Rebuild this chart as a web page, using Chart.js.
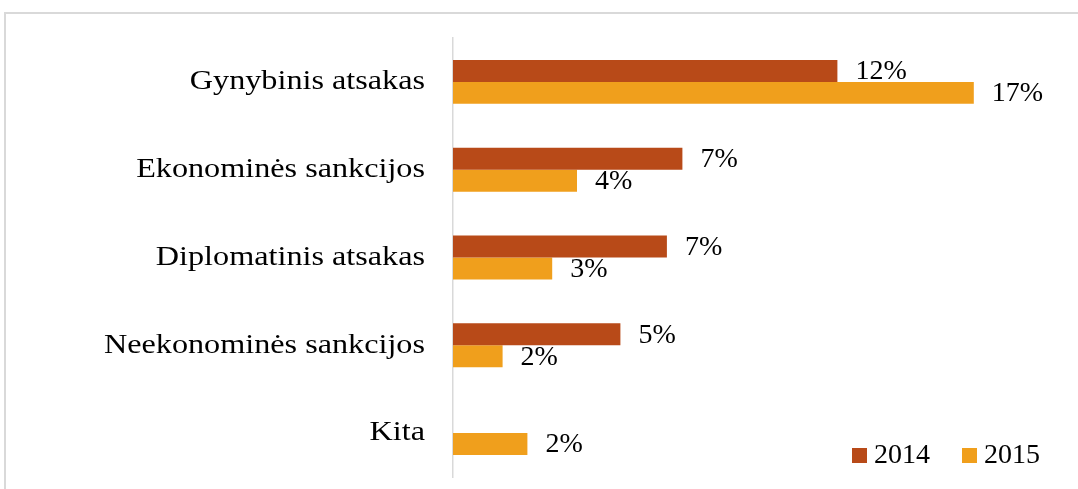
<!DOCTYPE html>
<html>
<head>
<meta charset="utf-8">
<script src="https://cdn.jsdelivr.net/npm/chart.js@4/dist/chart.umd.min.js"></script>
<style>
  html, body { margin: 0; padding: 0; background: #fff; overflow: hidden; }
  #frame { position: absolute; left: 4px; top: 12px; width: 1100px; height: 500px; border: 2px solid #d9d9d9; }
  #chart { position: absolute; left: 0; top: 0; }
</style>
</head>
<body>
<div id="frame"></div>
<canvas id="chart" width="1078" height="489"></canvas>
<script>
// Atsako tipai
var categories = ['Gynybinis atsakas', 'Ekonominės sankcijos', 'Diplomatinis atsakas', 'Neekonominės sankcijos', 'Kita'];
var seriesNames = ['2014', '2015'];
var values2014 = [12.4, 7.4, 6.9, 5.4, null];
var values2015 = [16.8, 4.0, 3.2, 1.6, 2.4];
var colours = ['#B84A18', '#F09F1C'];

var serif = '"Liberation Serif", "Times New Roman", serif';

// category names, a bit wider than the plain font (as in the original picture)
var categoryLabels = {
  id: 'categoryLabels',
  afterDraw: function (chart) {
    var ctx = chart.ctx, y = chart.scales.y, i;
    ctx.save();
    ctx.font = '28px ' + serif;
    ctx.fillStyle = '#000';
    ctx.textAlign = 'right';
    ctx.textBaseline = 'middle';
    for (i = 0; i < categories.length; i += 1) {
      ctx.save();
      ctx.translate(425, y.getPixelForTick(i));
      ctx.scale(1.15, 1);
      ctx.fillText(categories[i], 0, 0);
      ctx.restore();
    }
    ctx.restore();
  }
};

// value labels at the end of each bar
var barLabels = {
  id: 'barLabels',
  afterDatasetsDraw: function (chart) {
    var ctx = chart.ctx;
    ctx.save();
    ctx.font = '28px ' + serif;
    ctx.fillStyle = '#000';
    ctx.textAlign = 'left';
    ctx.textBaseline = 'middle';
    chart.data.datasets.forEach(function (ds, i) {
      chart.getDatasetMeta(i).data.forEach(function (bar, j) {
        if (ds.data[j] === null) { return; }
        ctx.fillText(Math.round(ds.data[j]) + '%', bar.x + 18, bar.y + 1);
      });
    });
    ctx.restore();
  }
};

// legend in the bottom right corner
var cornerLegend = {
  id: 'cornerLegend',
  afterDraw: function (chart) {
    var ctx = chart.ctx, x = [852, 962], k;
    ctx.save();
    ctx.font = '28px ' + serif;
    ctx.textBaseline = 'middle';
    for (k = 0; k < seriesNames.length; k += 1) {
      ctx.fillStyle = colours[k];
      ctx.fillRect(x[k], 448, 15, 15);
      ctx.fillStyle = '#000';
      ctx.fillText(seriesNames[k], x[k] + 22, 456);
    }
    ctx.restore();
  }
};

new Chart(document.getElementById('chart'), {
  type: 'bar',
  data: {
    labels: categories,
    datasets: [
      { label: seriesNames[0], data: values2014, backgroundColor: colours[0] },
      { label: seriesNames[1], data: values2015, backgroundColor: colours[1] }
    ]
  },
  options: {
    indexAxis: 'y',
    responsive: false,
    animation: false,
    layout: { padding: { top: 38, bottom: 12, left: 0, right: 5 } },
    datasets: { bar: { categoryPercentage: 0.5, barPercentage: 1.0 } },
    plugins: { legend: { display: false }, tooltip: { enabled: false } },
    scales: {
      x: {
        min: 0, max: 20,
        display: false
      },
      y: {
        grid: { display: false, drawTicks: false },
        border: { display: true, color: '#d9d9d9', width: 1.5 },
        ticks: { display: false },
        afterFit: function (scale) { scale.width = 453; }
      }
    }
  },
  plugins: [categoryLabels, barLabels, cornerLegend]
});
</script>
</body>
</html>
